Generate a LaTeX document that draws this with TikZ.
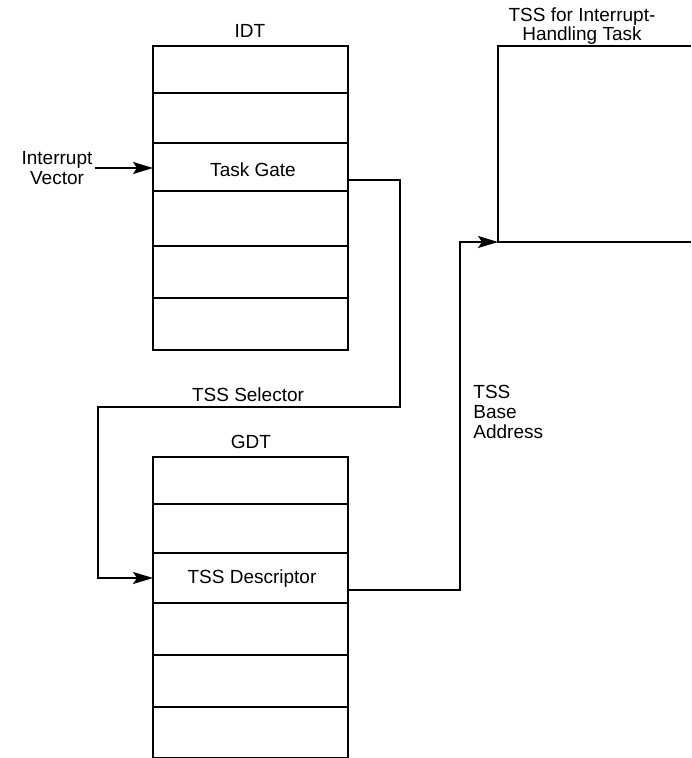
\documentclass[tikz,border=0pt]{standalone}
\usepackage{fontspec}
\setmainfont{Liberation Sans}
\usetikzlibrary{arrows.meta,calc}
\begin{document}
\begin{tikzpicture}[x=0.5pt,y=-0.5pt,
  every node/.style={font=\fontsize{9.5}{10}\selectfont},
  cell/.style={draw, line width=0.7pt, minimum width=97.5pt, inner sep=0pt, outer sep=0pt},
  lbl/.style={inner sep=1pt, align=center},
  conn/.style={line width=0.7pt},
  arr/.style={conn, -{Stealth[length=10pt,width=6pt,inset=2pt]}}]
\useasboundingbox (0,0) rectangle (691,758);
% IDT
\node[lbl] (idtlbl) at (250,31) {IDT};
\node[cell, minimum height=23.5pt] (idt1) at (250.5,69.5) {};
\node[cell, minimum height=25pt]   (idt2) at (250.5,118) {};
\node[cell, minimum height=24pt]   (idt3) at (250.5,167) {};
\node[cell, minimum height=27.5pt] (idt4) at (250.5,218.5) {};
\node[cell, minimum height=26pt]   (idt5) at (250.5,272) {};
\node[cell, minimum height=26pt]   (idt6) at (250.5,324) {};
\node[lbl] (tg) at (253,170) {Task Gate};
% GDT
\node[lbl] (gdtlbl) at (251,442) {GDT};
\node[cell, minimum height=23.5pt] (gdt1) at (250.5,480.5) {};
\node[cell, minimum height=24.5pt] (gdt2) at (250.5,528.5) {};
\node[cell, minimum height=25pt]   (gdt3) at (250.5,578) {};
\node[cell, minimum height=26pt]   (gdt4) at (250.5,629) {};
\node[cell, minimum height=26pt]   (gdt5) at (250.5,681) {};
\node[cell, minimum height=25.5pt] (gdt6) at (250.5,732.5) {};
\node[lbl] (td) at (252,579) {TSS Descriptor};
% TSS
\node[lbl, font=\fontsize{9.5}{8}\selectfont] (tsslbl) at (582,26) {TSS for Interrupt-\\Handling Task};
\node[inner sep=0pt, outer sep=0pt, minimum width=96.5pt, minimum height=98pt] (tss) at (594.5,144) {};
\draw[conn] (tss.north east) -- (tss.north west) -- (tss.south west) -- (tss.south east);
% labels
\node[lbl] (iv) at (57,168) {Interrupt\\Vector};
\node[lbl] (sel) at (248,395) {TSS Selector};
\node[lbl, align=left, anchor=west] (base) at (471,412) {TSS\\Base\\Address};
% connectors
\draw[arr] (iv.east) -- (iv.east -| idt3.west);
\coordinate (a0) at ($(idt3.east)+(0,13)$);
\coordinate (a1) at (400,180);
\coordinate (a2) at (400,407);
\coordinate (a3) at (98,407);
\draw[arr] (a0) -- (a1) -- (a2) -- (a3) |- (gdt3.west);
\coordinate (b0) at ($(gdt3.east)+(0,12)$);
\coordinate (b1) at (460,590);
\coordinate (b2) at (460,242);
\draw[arr] (b0) -- (b1) -- (b2) -- (tss.south west);
\end{tikzpicture}
\end{document}
